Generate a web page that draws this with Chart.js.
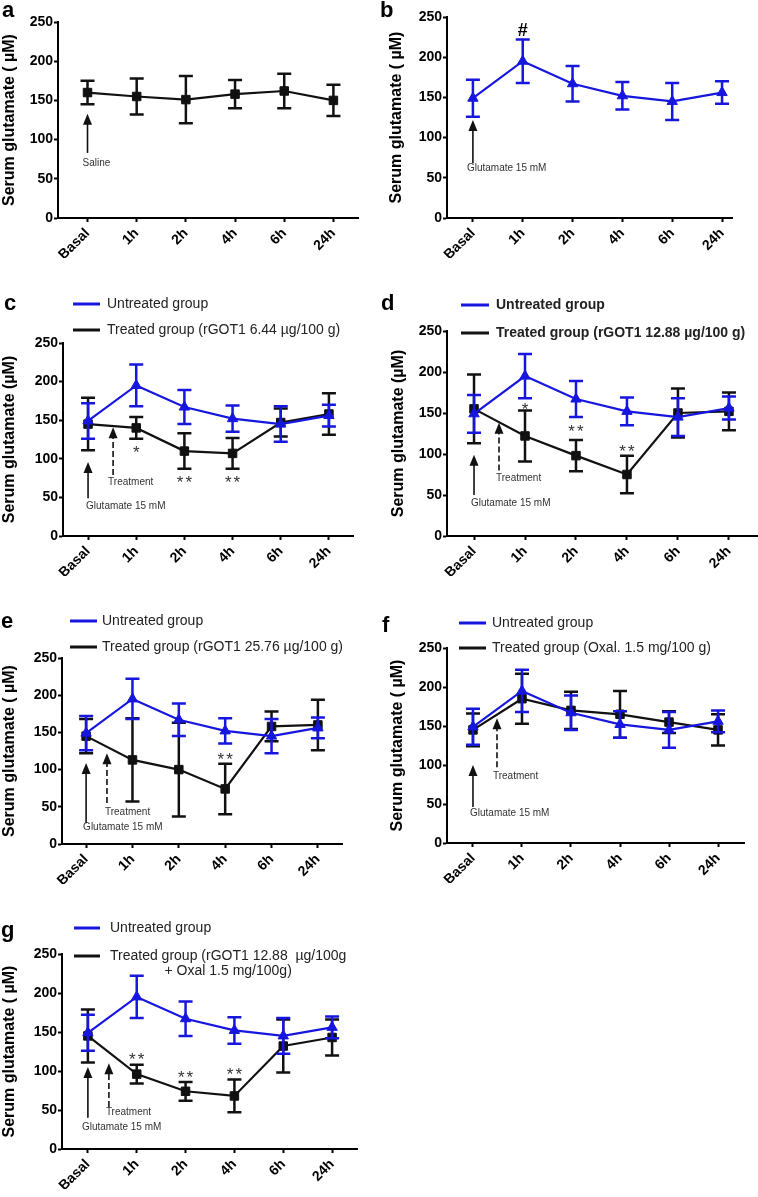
<!DOCTYPE html>
<html>
<head>
<meta charset="utf-8">
<script src="https://cdn.jsdelivr.net/npm/chart.js@4.4.1/dist/chart.umd.min.js"></script>
<style>
  html, body { margin: 0; padding: 0; background: #fff; }
  body { width: 758px; height: 1197px; position: relative; overflow: hidden; }
  canvas { position: absolute; }
</style>
</head>
<body>
<canvas id="panelA"></canvas>
<canvas id="panelB"></canvas>
<canvas id="panelC"></canvas>
<canvas id="panelD"></canvas>
<canvas id="panelE"></canvas>
<canvas id="panelF"></canvas>
<canvas id="panelG"></canvas>
<script>
// time points on the x axis
const timeLabels = ['Basal', '1h', '2h', '4h', '6h', '24h'];
const yTickValues = [0, 50, 100, 150, 200, 250];

// mean serum glutamate (µM) and error (±) per time point
const untreatedMean = [149, 195, 167, 152, 145, 156];
const untreatedErr = [23, 27, 22, 17, 23, 14];

const salineMean = [160, 155, 151, 158, 162, 150];
const salineErr = [15, 23, 30, 18, 22, 20];

const rgot644Mean = [145, 140, 110, 107, 147, 158];
const rgot644Err = [34, 14, 23, 20, 18, 27];

const rgot1288Mean = [155, 122, 98, 75, 150, 152];
const rgot1288Err = [42, 31, 19, 23, 30, 23];

const rgot2576Mean = [145, 113, 100, 74, 158, 160];
const rgot2576Err = [23, 56, 63, 34, 20, 34];

const oxalMean = [145, 185, 170, 165, 155, 145];
const oxalErr = [21, 32, 24, 30, 14, 20];

const comboMean = [145, 96, 74, 68, 132, 143];
const comboErr = [34, 12, 12, 21, 34, 23];

const FONT = '"Liberation Sans", Arial, Helvetica, sans-serif';
const BLUE = 'rgb(22, 22, 222)';
const INK = '#111';
const X_AXIS_H = 40;

Chart.defaults.font.family = FONT;

const errorBars = {
    id: 'errorBars',
    afterDatasetDraw(chart, args) {
        const ds = chart.data.datasets[args.index];
        if (!ds.errors) return;
        const y = chart.scales.y;
        const ctx = chart.ctx;
        ctx.save();
        ctx.strokeStyle = ds.borderColor;
        ctx.lineWidth = 2.5;
        args.meta.data.forEach((pt, i) => {
            const v = ds.data[i].y;
            const e = ds.errors[i];
            const top = y.getPixelForValue(v + e);
            const bot = y.getPixelForValue(v - e);
            ctx.beginPath();
            ctx.moveTo(pt.x, top);
            ctx.lineTo(pt.x, bot);
            ctx.moveTo(pt.x - 7, top);
            ctx.lineTo(pt.x + 7, top);
            ctx.moveTo(pt.x - 7, bot);
            ctx.lineTo(pt.x + 7, bot);
            ctx.stroke();
        });
        ctx.restore();
    }
};

function drawArrow(ctx, px, yFrom, yTo, dashed) {
    const head = 11;
    const half = 4.5;
    ctx.strokeStyle = INK;
    ctx.fillStyle = INK;
    ctx.lineWidth = 1.6;
    ctx.setLineDash(dashed ? [6, 3] : []);
    ctx.beginPath();
    ctx.moveTo(px, yFrom);
    ctx.lineTo(px, yTo + head - 1);
    ctx.stroke();
    ctx.setLineDash([]);
    ctx.beginPath();
    ctx.moveTo(px, yTo);
    ctx.lineTo(px - half, yTo + head);
    ctx.lineTo(px + half, yTo + head);
    ctx.closePath();
    ctx.fill();
}

function panelNotes(p) {
    return {
        id: 'notes' + p.letter,
        afterDraw(chart) {
            const ctx = chart.ctx;
            const x = chart.scales.x;
            const y = chart.scales.y;
            ctx.save();

            ctx.fillStyle = '#000';
            ctx.font = 'bold 22px ' + FONT;
            ctx.textAlign = 'left';
            ctx.textBaseline = 'alphabetic';
            ctx.fillText(p.letter, p.letterAt[0], p.letterAt[1]);

            (p.arrows || []).forEach(a => {
                drawArrow(ctx, x.getPixelForValue(a.x), y.getPixelForValue(a.from), y.getPixelForValue(a.to), a.dashed);
            });

            (p.notes || []).forEach(n => {
                const px = x.getPixelForValue(n.x);
                const py = y.getPixelForValue(n.y);
                if (n.kind === 'star') {
                    ctx.font = '17px ' + FONT;
                    ctx.fillStyle = '#333';
                    ctx.textAlign = 'center';
                    ctx.textBaseline = 'alphabetic';
                    ctx.letterSpacing = '2px';
                    ctx.fillText(n.text, px + 1, py + 10);
                    ctx.letterSpacing = '0px';
                } else if (n.kind === 'mark') {
                    ctx.font = 'bold 18px ' + FONT;
                    ctx.fillStyle = '#000';
                    ctx.textAlign = 'center';
                    ctx.textBaseline = 'middle';
                    ctx.fillText(n.text, px, py);
                } else {
                    ctx.font = '10px ' + FONT;
                    ctx.fillStyle = '#333';
                    ctx.textAlign = 'left';
                    ctx.textBaseline = 'middle';
                    ctx.fillText(n.text, px + n.dx, py);
                }
            });

            if (p.legend) {
                const lg = p.legend;
                ctx.font = (lg.bold ? 'bold ' : '') + '14px ' + FONT;
                ctx.textAlign = 'left';
                ctx.textBaseline = 'middle';
                p.series.forEach((s, i) => {
                    const ry = lg.rows[i];
                    ctx.strokeStyle = s.color;
                    ctx.lineWidth = 3;
                    ctx.beginPath();
                    ctx.moveTo(lg.lineFrom, ry);
                    ctx.lineTo(lg.lineTo, ry);
                    ctx.stroke();
                    ctx.fillStyle = '#222';
                    const lines = [].concat(s.legendText || s.label);
                    ctx.fillText(lines[0], lg.textX, ry);
                    if (lines[1]) {
                        const mid = lg.textX + ctx.measureText(lines[0]).width / 2;
                        ctx.textAlign = 'center';
                        ctx.fillText(lines[1], mid, ry + 15);
                        ctx.textAlign = 'left';
                    }
                });
            }
            ctx.restore();
        }
    };
}

function makeChart(p) {
    const [left, top, w, h] = p.box;
    const [l, t, r, b] = p.area;
    const canvas = document.getElementById(p.canvas);
    canvas.width = w;
    canvas.height = h;
    canvas.style.left = left + 'px';
    canvas.style.top = top + 'px';
    const padLeft = Math.max(0, Math.round(p.titleX - 9.6));
    const yWidth = l - left - padLeft;

    const datasets = p.series.map(s => ({
        label: s.label,
        data: s.mean.map((v, i) => ({ x: i, y: v })),
        errors: s.err,
        borderColor: s.color,
        backgroundColor: s.color,
        pointBackgroundColor: s.color,
        pointBorderColor: s.color,
        borderWidth: 2.2,
        pointStyle: s.marker,
        pointRadius: 6,
        pointBorderWidth: 1,
        tension: 0
    }));

    const axisGrid = { display: true, drawOnChartArea: false, drawTicks: true, tickLength: 4, tickColor: '#000', tickWidth: 2, color: '#000' };
    const axisBorder = { display: true, color: '#000', width: 2 };
    const tickFont = { family: FONT, size: 14, weight: 'bold' };

    new Chart(canvas, {
        type: 'line',
        data: { datasets },
        options: {
            responsive: false,
            animation: false,
            devicePixelRatio: 1,
            layout: {
                autoPadding: false,
                padding: { left: padLeft, top: t - top, right: left + w - r, bottom: top + h - b - X_AXIS_H }
            },
            plugins: { legend: { display: false }, tooltip: { enabled: false } },
            scales: {
                x: {
                    type: 'linear',
                    min: p.xRange[0],
                    max: p.xRange[1],
                    afterBuildTicks: axis => { axis.ticks = timeLabels.map((_, i) => ({ value: i })); },
                    afterFit: axis => { axis.height = X_AXIS_H; },
                    ticks: {
                        callback: v => timeLabels[v],
                        minRotation: 45,
                        maxRotation: 45,
                        autoSkip: false,
                        padding: 3,
                        color: '#000',
                        font: tickFont
                    },
                    grid: axisGrid,
                    border: axisBorder
                },
                y: {
                    min: 0,
                    max: 250,
                    afterBuildTicks: axis => { axis.ticks = yTickValues.map(v => ({ value: v })); },
                    afterFit: axis => { axis.width = yWidth; },
                    ticks: { padding: 1, color: '#000', font: tickFont },
                    title: { display: true, text: p.yTitle, color: '#000', padding: 0, font: { family: FONT, size: 16, weight: 'bold' } },
                    grid: axisGrid,
                    border: axisBorder
                }
            }
        },
        plugins: [errorBars, panelNotes(p)]
    });
}

const untreated = { label: 'Untreated group', mean: untreatedMean, err: untreatedErr, color: BLUE, marker: 'triangle' };
const glutamateArrow = (from, to) => ({ x: 0, from, to });
const glutamateNote = (yv, dx) => ({ x: 0, y: yv, text: 'Glutamate 15 mM', kind: 'label', dx });

const panels = [
    {
        canvas: 'panelA', letter: 'a', letterAt: [2, 17],
        box: [0, 0, 379, 262], area: [58, 22, 358, 218], titleX: 9, xRange: [-0.6, 5.5],
        yTitle: 'Serum glutamate ( µM)',
        series: [{ label: 'Saline', mean: salineMean, err: salineErr, color: INK, marker: 'rect' }],
        arrows: [glutamateArrow(83, 133)],
        notes: [{ x: 0, y: 70, text: 'Saline', kind: 'label', dx: -5 }]
    },
    {
        canvas: 'panelB', letter: 'b', letterAt: [1, 17],
        box: [379, 0, 379, 262], area: [447, 17, 732, 218], titleX: 18, xRange: [-0.52, 5.2],
        yTitle: 'Serum glutamate ( µM)',
        series: [untreated],
        arrows: [glutamateArrow(68, 122)],
        notes: [glutamateNote(62, -6), { x: 1, y: 233, text: '#', kind: 'mark' }]
    },
    {
        canvas: 'panelC', letter: 'c', letterAt: [4, 40],
        box: [0, 270, 379, 320], area: [63, 343, 353, 536], titleX: 9, xRange: [-0.52, 5.5],
        yTitle: 'Serum glutamate (µM)',
        series: [untreated, { label: 'Treated group (rGOT1 6.44 µg/100 g)', mean: rgot644Mean, err: rgot644Err, color: INK, marker: 'rect' }],
        legend: { lineFrom: 73, lineTo: 100, textX: 107, rows: [34, 60] },
        arrows: [glutamateArrow(49, 96), { x: 0.52, from: 79, to: 141, dashed: true }],
        notes: [
            glutamateNote(38, -2),
            { x: 0.52, y: 70, text: 'Treatment', kind: 'label', dx: -5 },
            { x: 1, y: 114, text: '*', kind: 'star' },
            { x: 2, y: 75, text: '**', kind: 'star' },
            { x: 3, y: 75, text: '**', kind: 'star' }
        ]
    },
    {
        canvas: 'panelD', letter: 'd', letterAt: [2, 40],
        box: [379, 270, 379, 320], area: [447, 331, 758, 536], titleX: 19.5, xRange: [-0.53, 5.57],
        yTitle: 'Serum glutamate (µM)',
        series: [untreated, { label: 'Treated group (rGOT1 12.88 µg/100 g)', mean: rgot1288Mean, err: rgot1288Err, color: INK, marker: 'rect' }],
        legend: { lineFrom: 82, lineTo: 110, textX: 117, rows: [35, 63], bold: true },
        arrows: [glutamateArrow(50, 99), { x: 0.49, from: 80, to: 138, dashed: true }],
        notes: [
            glutamateNote(40, -3),
            { x: 0.49, y: 70, text: 'Treatment', kind: 'label', dx: -3 },
            { x: 1, y: 160, text: '*', kind: 'star' },
            { x: 2, y: 133, text: '**', kind: 'star' },
            { x: 3, y: 108, text: '**', kind: 'star' }
        ]
    },
    {
        canvas: 'panelE', letter: 'e', letterAt: [1, 53],
        box: [0, 575, 379, 320], area: [62, 658, 342, 844], titleX: 7.5, xRange: [-0.52, 5.52],
        yTitle: 'Serum glutamate ( µM)',
        series: [untreated, { label: 'Treated group (rGOT1 25.76 µg/100 g)', mean: rgot2576Mean, err: rgot2576Err, color: INK, marker: 'rect' }],
        legend: { lineFrom: 70, lineTo: 97, textX: 102, rows: [46, 72] },
        arrows: [glutamateArrow(28, 109), { x: 0.45, from: 55, to: 122, dashed: true }],
        notes: [
            glutamateNote(22, -3),
            { x: 0.45, y: 43, text: 'Treatment', kind: 'label', dx: -2 },
            { x: 3, y: 120, text: '**', kind: 'star' }
        ]
    },
    {
        canvas: 'panelF', letter: 'f', letterAt: [3, 57],
        box: [379, 575, 379, 320], area: [447, 648, 744, 843], titleX: 19, xRange: [-0.53, 5.53],
        yTitle: 'Serum glutamate ( µM)',
        series: [untreated, { label: 'Treated group (Oxal. 1.5 mg/100 g)', mean: oxalMean, err: oxalErr, color: INK, marker: 'rect' }],
        legend: { lineFrom: 80, lineTo: 107, textX: 113, rows: [48, 73] },
        arrows: [glutamateArrow(46, 100), { x: 0.49, from: 97, to: 160, dashed: true }],
        notes: [
            glutamateNote(38, -3),
            { x: 0.49, y: 85, text: 'Treatment', kind: 'label', dx: -4 }
        ]
    },
    {
        canvas: 'panelG', letter: 'g', letterAt: [1, 57],
        box: [0, 880, 379, 317], area: [62, 954, 357, 1149], titleX: 10, xRange: [-0.53, 5.51],
        yTitle: 'Serum glutamate ( µM)',
        series: [untreated, {
            label: 'Treated group (rGOT1 12.88 µg/100g + Oxal 1.5 mg/100g)',
            legendText: ['Treated group (rGOT1 12.88  µg/100g', '+ Oxal 1.5 mg/100g)'],
            mean: comboMean, err: comboErr, color: INK, marker: 'rect'
        }],
        legend: { lineFrom: 74, lineTo: 100, textX: 110, rows: [48, 76] },
        arrows: [glutamateArrow(40, 105), { x: 0.43, from: 54, to: 110, dashed: true }],
        notes: [
            glutamateNote(28, -6),
            { x: 0.43, y: 47, text: 'Treatment', kind: 'label', dx: -3 },
            { x: 1, y: 120, text: '**', kind: 'star' },
            { x: 2, y: 97, text: '**', kind: 'star' },
            { x: 3, y: 101, text: '**', kind: 'star' }
        ]
    }
];

panels.forEach(makeChart);
</script>
</body>
</html>
